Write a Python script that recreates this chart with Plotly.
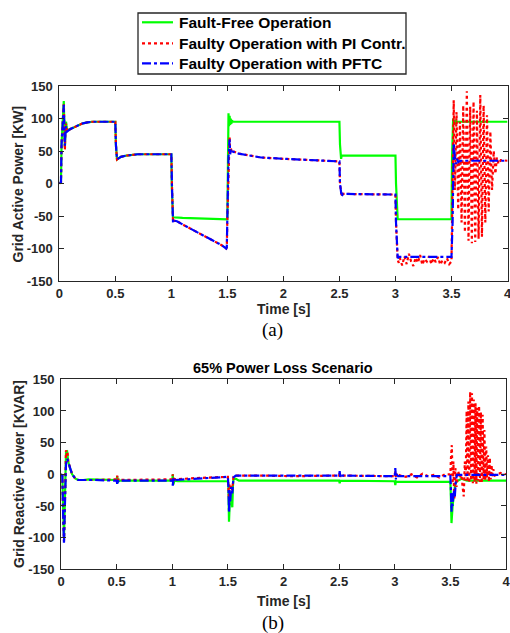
import plotly.graph_objects as go

W, H = 510, 633

# ---------------- data ----------------
# (a) Grid active power [kW]
t_p_ff = [0, 0.015, 0.02, 0.03, 0.04, 0.045, 0.05, 0.055, 0.06, 0.065, 0.07, 0.1, 0.15, 0.2, 0.25,
          0.3, 0.5, 0.505, 0.515, 0.55, 0.6, 0.7, 0.8, 1.0, 1.005, 1.015, 1.1, 1.3, 1.5, 1.505,
          1.51, 1.515, 1.52, 1.525, 1.53, 1.535, 1.54, 1.55, 1.6, 2.5, 2.505, 2.515, 2.52, 3.0,
          3.005, 3.015, 3.02, 3.5, 3.505, 3.515, 3.52, 3.525, 3.53, 3.54, 3.55, 4.0]
p_ff = [0, 2, 60, 100, 127, 90, 55, 85, 95, 88, 82, 84, 88, 92, 94,
        95, 95, 60, 37, 41, 43, 45, 45, 45, -10, -52, -53, -54, -55, 30,
        108, 88, 104, 90, 100, 92, 97, 95, 95, 95, 60, 38, 43, 43,
        0, -52, -55, -55, 40, 100, 90, 98, 92, 96, 95, 95]

t_p_pi = [0, 0.015, 0.02, 0.03, 0.04, 0.045, 0.05, 0.055, 0.06, 0.065, 0.07, 0.1, 0.15, 0.2, 0.25,
          0.3, 0.5, 0.505, 0.515, 0.55, 0.6, 0.7, 0.8, 1.0, 1.005, 1.01, 1.015, 1.02, 1.05, 1.1,
          1.2, 1.3, 1.4, 1.45, 1.49, 1.495, 1.5, 1.51, 1.52, 1.525, 1.53, 1.54, 1.55, 1.6, 1.7,
          1.8, 2.0, 2.2, 2.5, 2.505, 2.515, 2.52, 2.53, 3.0, 3.005, 3.015, 3.02, 3.03, 3.04, 3.06,
          3.08, 3.10, 3.12, 3.14, 3.16, 3.18, 3.20, 3.22, 3.24, 3.26, 3.28, 3.30, 3.32, 3.34, 3.36,
          3.38, 3.40, 3.42, 3.44, 3.46, 3.48, 3.50, 3.510, 3.520, 3.530, 3.545, 3.560, 3.575, 3.590,
          3.605, 3.620, 3.637, 3.652, 3.667, 3.682, 3.697, 3.712, 3.727, 3.742, 3.757, 3.772, 3.787,
          3.802, 3.817, 3.832, 3.847, 3.862, 3.877, 3.892, 3.905, 3.92, 3.94, 4.0]
p_pi = [0, 2, 60, 100, 122, 85, 52, 82, 92, 86, 80, 84, 88, 92, 94,
        95, 95, 60, 37, 41, 43, 45, 45, 45, 0, -55, -60, -57, -58, -63,
        -72, -81, -90, -95, -100, -98, -50, 40, 72, 45, 55, 48, 50, 46, 43,
        40, 38, 36.5, 34, 0, -15, -20, -16, -17, -60, -108, -118, -122, -115, -126,
        -112, -124, -108, -120, -127, -114, -122, -110, -125, -116, -120, -112, -124, -115, -121,
        -113, -125, -118, -122, -115, -124, -120, 60, 128, -10, 110, -40, 95, -60,
        120, -75, 142, -88, 118, -92, 126, -90, 112, -85, 136, -82, 120,
        -60, 105, -43, 80, -10, 50, 15, 40, 30, 36, 35]

t_p_pftc = [0, 0.015, 0.02, 0.03, 0.04, 0.045, 0.05, 0.055, 0.06, 0.065, 0.07, 0.1, 0.15, 0.2, 0.25,
            0.3, 0.5, 0.505, 0.515, 0.55, 0.6, 0.7, 0.8, 1.0, 1.005, 1.01, 1.015, 1.02, 1.05, 1.1,
            1.2, 1.3, 1.4, 1.45, 1.49, 1.495, 1.5, 1.51, 1.52, 1.525, 1.53, 1.54, 1.55, 1.6, 1.7,
            1.8, 2.0, 2.2, 2.5, 2.505, 2.515, 2.52, 2.53, 3.0, 3.005, 3.015, 3.02, 3.03, 3.5,
            3.51, 3.52, 3.53, 3.54, 3.55, 3.56, 3.58, 4.0]
p_pftc = [0, 2, 60, 100, 121, 85, 58, 80, 88, 84, 80, 84, 88, 92, 94,
          95, 95, 60, 37, 41, 43, 45, 45, 45, 0, -55, -60, -57, -58, -63,
          -72, -81, -90, -95, -100, -98, -50, 40, 68, 45, 52, 47, 49, 46, 43,
          40, 38, 36.5, 34, 0, -15, -20, -16, -17, -60, -108, -115, -113, -113,
          -60, 62, 40, 30, 38, 33, 35, 35]

# (b) Grid reactive power [kVAR]
t_q_ff = [0, 0.012, 0.02, 0.027, 0.035, 0.045, 0.055, 0.065, 0.08, 0.1, 0.13, 0.155, 0.2, 0.25,
          0.5, 0.505, 0.51, 0.515, 0.52, 1.0, 1.005, 1.01, 1.02, 1.05, 1.5, 1.505, 1.51, 1.52,
          1.53, 1.54, 1.545, 1.55, 1.57, 1.6, 2.5, 2.505, 2.51, 3.0, 3.005, 3.01, 3.02, 3.5,
          3.505, 3.51, 3.52, 3.53, 3.54, 3.55, 3.57, 3.6, 3.65, 4.0]
q_ff = [0, -2, -60, -100, -40, 35, 36, 20, 10, 0, -7, -9, -9, -8,
        -9, -3, -14, -8, -10, -10, 0, -16, -10, -11, -11, -20, -75, -30,
        -40, -52, -20, -8, -7, -10, -10, -14, -10, -11, -17, -11, -12, -12,
        -40, -77, -50, -30, -20, -12, -10, -7, -10, -10]

t_q_pi = [0, 0.012, 0.02, 0.027, 0.035, 0.045, 0.05, 0.055, 0.06, 0.065, 0.08, 0.1, 0.13, 0.155,
          0.3, 0.5, 0.505, 0.51, 0.515, 0.52, 1.0, 1.005, 1.01, 1.015, 1.03, 1.2, 1.5, 1.505,
          1.51, 1.515, 1.52, 1.53, 1.54, 1.55, 1.57, 1.8, 2.1, 2.5, 2.505, 2.51, 2.515, 3.0,
          3.005, 3.01, 3.015, 3.05, 3.1, 3.15, 3.2, 3.25, 3.3, 3.35, 3.4, 3.45, 3.5, 3.505,
          3.513, 3.52, 3.527, 3.535, 3.545, 3.555, 3.57, 3.585, 3.60, 3.61, 3.62, 3.63, 3.638,
          3.646, 3.654, 3.662, 3.670, 3.678, 3.686, 3.694, 3.702, 3.710, 3.718, 3.726, 3.734,
          3.742, 3.750, 3.758, 3.766, 3.774, 3.782, 3.790, 3.798, 3.806, 3.814, 3.822, 3.830,
          3.838, 3.846, 3.854, 3.862, 3.870, 3.878, 3.886, 3.9, 3.95, 4.0]
q_pi = [0, -2, -70, -105, -45, 38, 30, 36, 32, 20, 10, 0, -7, -9,
        -9, -8, -2, -10, -7, -9, -8, 0, -12, -7, -8, -6, -4, -20,
        -40, -15, -35, -18, -25, -4, -2, -2, -3, -2, 3, -4, -2, -3,
        5, -6, 2, -2, -4, 0, -5, 1, -3, -1, -5, 0, 0, 25,
        46, -15, 20, -40, 10, -20, 5, -5, 0, -20, -35, 20, -10,
        100, -12, 115, -14, 130, -10, 128, -14, 118, -12, 112, -15,
        105, -10, 108, -12, 98, -14, 94, -8, 70, -10, 44, -5,
        30, -12, 26, -8, 15, -5, 8, -2, 2, 0]

t_q_pftc = [0, 0.012, 0.02, 0.027, 0.035, 0.045, 0.055, 0.065, 0.08, 0.1, 0.13, 0.155, 0.3,
            0.5, 0.505, 0.51, 0.515, 0.52, 1.0, 1.005, 1.01, 1.015, 1.03, 1.2, 1.5, 1.505,
            1.51, 1.515, 1.52, 1.53, 1.54, 1.55, 1.57, 2.5, 2.505, 2.51, 2.515, 3.0, 3.005,
            3.01, 3.015, 3.03, 3.5, 3.505, 3.51, 3.515, 3.52, 3.53, 3.54, 3.55, 3.56, 4.0]
q_pftc = [0, -2, -70, -110, -50, 15, 25, 20, 10, 0, -7, -9, -9,
          -10, -15, -8, -12, -10, -10, -18, -4, -12, -9, -7, -4, -20,
          -61, -25, -45, -20, -30, -5, -2, -2, 5, -5, -2, -3, 10,
          -8, 0, -3, -3, -25, -59, -30, -50, -25, -35, -8, -1, -1]

x_ticks = [0, 0.5, 1, 1.5, 2, 2.5, 3, 3.5, 4]
x_tick_text = ["0", "0.5", "1", "1.5", "2", "2.5", "3", "3.5", "4"]
y_ticks = [-150, -100, -50, 0, 50, 100, 150]
y_tick_text = ["-150", "-100", "-50", "0", "50", "100", "150"]

names = ["Fault-Free Operation", "Faulty Operation with PI Contr.", "Faulty Operation with PFTC"]

# ---------------- figure ----------------
GREEN, RED, BLUE = "#00ff00", "#ff0000", "#0000ff"
FONT = "Liberation Sans, Arial, sans-serif"

fig = go.Figure()
styles = [dict(color=GREEN, width=2.2, dash="solid"),
          dict(color=RED, width=2.2, dash="dot"),
          dict(color=BLUE, width=2.2, dash="dashdot")]

for (tx, vy), st, nm in zip([(t_p_ff, p_ff), (t_p_pi, p_pi), (t_p_pftc, p_pftc)], styles, names):
    fig.add_trace(go.Scatter(x=tx, y=vy, mode="lines", line=st, name=nm,
                             xaxis="x", yaxis="y", showlegend=False, hoverinfo="skip"))
for (tx, vy), st, nm in zip([(t_q_ff, q_ff), (t_q_pi, q_pi), (t_q_pftc, q_pftc)], styles, names):
    fig.add_trace(go.Scatter(x=tx, y=vy, mode="lines", line=st, name=nm,
                             xaxis="x2", yaxis="y2", showlegend=False, hoverinfo="skip"))

def px(x):
    return x / W

def py(y):
    return 1 - y / H

axis_common = dict(showgrid=False, zeroline=False, showline=True, linecolor="#262626",
                   linewidth=1, mirror="ticks", ticks="inside", ticklen=5, tickcolor="#262626",
                   automargin=False, ticklabeloverflow="allow",
                   tickfont=dict(family=FONT, size=13, color="#262626", weight="bold"))

fig.update_layout(
    width=W, height=H, margin=dict(l=0, r=0, t=0, b=0),
    paper_bgcolor="white", plot_bgcolor="white",
    xaxis=dict(domain=[px(59.3), px(507.5)], range=[0, 4], anchor="y",
               tickvals=x_ticks, ticktext=x_tick_text, **axis_common),
    yaxis=dict(domain=[py(281), py(86)], range=[-150, 150], anchor="x",
               tickvals=y_ticks, ticktext=y_tick_text, ticklabelstandoff=3, **axis_common),
    xaxis2=dict(domain=[px(61), px(506)], range=[0, 4], anchor="y2",
                tickvals=x_ticks, ticktext=x_tick_text, **axis_common),
    yaxis2=dict(domain=[py(569.3), py(379.3)], range=[-150, 150], anchor="x2",
                tickvals=y_ticks, ticktext=y_tick_text, ticklabelstandoff=3, **axis_common),
    showlegend=False,
    hovermode=False,
)

# ---- legend box drawn by hand (MATLAB-style) ----
leg_box = dict(x0=138, x1=406, y0=13, y1=74)
leg_rows = [22.3, 43.3, 63.3]
fig.add_shape(type="rect", xref="paper", yref="paper",
              x0=px(leg_box["x0"]), x1=px(leg_box["x1"]),
              y0=py(leg_box["y1"]), y1=py(leg_box["y0"]),
              line=dict(color="#262626", width=1.3), fillcolor="white", layer="above")
for st, nm, ry in zip(styles, names, leg_rows):
    fig.add_shape(type="line", xref="paper", yref="paper",
                  x0=px(142), x1=px(173), y0=py(ry), y1=py(ry),
                  line=dict(color=st["color"], width=st["width"], dash=st["dash"]), layer="above")
    fig.add_annotation(xref="paper", yref="paper", x=px(176.5), y=py(ry), text=nm,
                       showarrow=False, xanchor="left", yanchor="middle",
                       font=dict(family=FONT, size=15.5, color="black", weight="bold"))

lab_font = dict(family=FONT, size=14, color="#262626", weight="bold")
ann = [
    dict(text="Grid Active Power [KW]", x=px(17.5), y=py(184), textangle=-90, font=lab_font),
    dict(text="Time [s]", x=px(283.5), y=py(308.5), font=lab_font),
    dict(text="(a)", x=px(272), y=py(330),
         font=dict(family="Liberation Serif, Times New Roman, serif", size=19, color="black")),
    dict(text="65% Power Loss Scenario", x=px(283), y=py(368),
         font=dict(family=FONT, size=14.5, color="black", weight="bold")),
    dict(text="Grid Reactive Power [KVAR]", x=px(19), y=py(474), textangle=-90, font=lab_font),
    dict(text="Time [s]", x=px(283.7), y=py(601), font=lab_font),
    dict(text="(b)", x=px(272.5), y=py(623),
         font=dict(family="Liberation Serif, Times New Roman, serif", size=19, color="black")),
]
for a in ann:
    fig.add_annotation(xref="paper", yref="paper", showarrow=False,
                       xanchor="center", yanchor="middle", **a)

fig.write_html("out.html", config={"displayModeBar": False, "staticPlot": True},
               post_script="document.body.style.margin='0px';document.body.style.overflow='hidden';")
